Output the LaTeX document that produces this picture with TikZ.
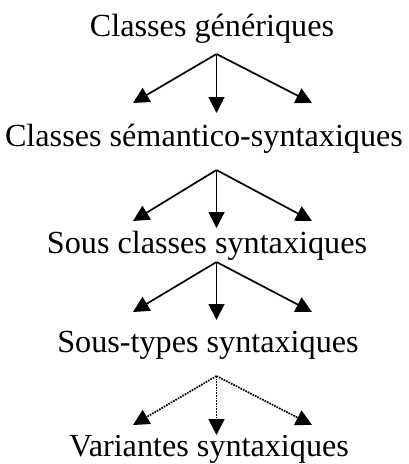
\documentclass[tikz,border=0pt]{standalone}
\usepackage{fontspec}
\setmainfont{Liberation Serif}
\usetikzlibrary{arrows.meta}

\begin{document}
\begin{tikzpicture}[x=1pt,y=-1pt,->,>={Triangle[length=16pt,width=16pt]},line width=1.7pt]
	\tikzstyle{every node}=[font=\fontsize{32.2}{38}\selectfont,anchor=base,inner sep=0pt]
	\useasboundingbox (0,0) rectangle (408,464);

	% niveaux
	\node (gen)  at (212,36)  {Classes génériques};
	\node (sem)  at (204,146) {Classes sémantico-syntaxiques};
	\node (sous) at (207,253) {Sous classes syntaxiques};
	\node (typ)  at (208,352) {Sous-types syntaxiques};
	\node (var)  at (209,456) {Variantes syntaxiques};

	% points de depart et pointes
	\coordinate (o1) at (216.5,54);  \coordinate (l1) at (133,103); \coordinate (m1) at (216.5,113); \coordinate (r1) at (312,103);
	\coordinate (o2) at (216.5,170); \coordinate (l2) at (133,221); \coordinate (m2) at (216.5,228); \coordinate (r2) at (312,221);
	\coordinate (o3) at (216.5,262); \coordinate (l3) at (133,312); \coordinate (m3) at (216.5,320); \coordinate (r3) at (312,312);
	\coordinate (o4) at (216.5,376); \coordinate (l4) at (133,425); \coordinate (m4) at (216.5,435); \coordinate (r4) at (312,425);

	\path (o1) edge (l1) edge (m1) edge (r1)
	      (o2) edge (l2) edge (m2) edge (r2)
	      (o3) edge (l3) edge (m3) edge (r3);
	\path[densely dotted] (o4) edge (l4) edge (m4) edge (r4);
\end{tikzpicture}
\end{document}
